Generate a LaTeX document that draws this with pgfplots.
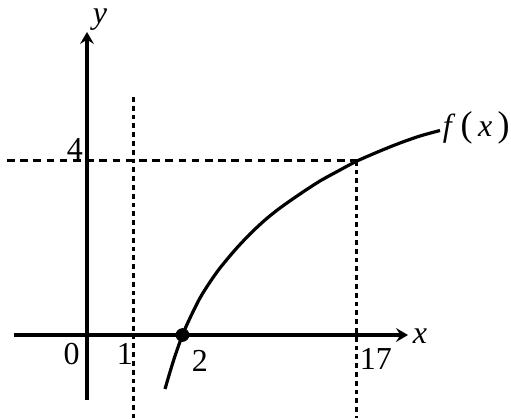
\documentclass[border=0pt]{standalone}
\usepackage{fontspec}
\setmainfont{Liberation Serif}
\usepackage{pgfplots}
\pgfplotsset{compat=1.18}
\usetikzlibrary{arrows.meta}
\begin{document}
\begin{tikzpicture}
\begin{axis}[
    scale only axis,
    width=255.5pt, height=209pt,
    xmin=0, xmax=511, ymin=0, ymax=418,
    y dir=reverse,
    hide axis,
    clip=false,
    font=\fontsize{16}{19}\selectfont,
]
% frame of the picture
\addplot[draw=none] coordinates {(0,0) (511,418)};
% dashed guides
\addplot[line width=1.5pt, dash pattern=on 2.4pt off 2pt]
    coordinates {(134,97) (134,418)};
\addplot[line width=1.5pt, dash pattern=on 2.4pt off 2pt]
    coordinates {(357,160.7) (357,418)};
\addplot[line width=1.5pt, dash pattern=on 3.8pt off 2.8pt]
    coordinates {(7,160.7) (357,160.7)};
% axes
\addplot[line width=1.7pt, -{Stealth[length=6pt,width=7pt,inset=2.2pt]}]
    coordinates {(14,335) (408,335)};
\addplot[line width=1.7pt, -{Stealth[length=6pt,width=7pt,inset=2.2pt]}]
    coordinates {(87,400) (87,32)};
% f(x)
\addplot[line width=1.6pt, smooth] coordinates {
    (165,389) (170,372) (175,356) (182.5,335) (190,318) (200,298)
    (210,282) (220,268) (235,250) (250,234) (265,220) (280,208)
    (300,194) (320,181) (340,170) (357,161) (380,151) (400,143)
    (420,136) (440,130.5)
};
% root
\addplot[only marks, mark=*, mark size=3.2pt] coordinates {(182.5,335)};
% labels
\node at (axis cs:71.5,354) {0};
\node at (axis cs:125,354) {1};
\node at (axis cs:200,361) {2};
\node at (axis cs:376,359) {17};
\node at (axis cs:75,149) {4};
\node at (axis cs:420,336) {\textit{x}};
\node at (axis cs:100,20) {\textit{y}};
\node[anchor=east, inner sep=0pt] at (axis cs:510,128) {\textit{f}\,{\fontsize{18}{20}\selectfont(}\,\textit{x}\,{\fontsize{18}{20}\selectfont)}};
\end{axis}
\end{tikzpicture}
\end{document}
